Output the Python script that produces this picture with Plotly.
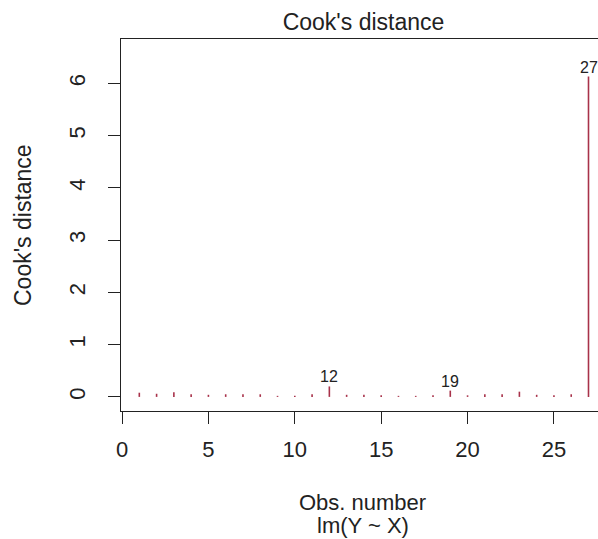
import plotly.graph_objects as go

obs = list(range(1, 28))
cooks_d = [0.08, 0.06, 0.09, 0.05, 0.04, 0.05, 0.05, 0.05, 0.02,
           0.02, 0.05, 0.20, 0.04, 0.04, 0.03, 0.02, 0.02, 0.03,
           0.12, 0.03, 0.05, 0.05, 0.10, 0.04, 0.03, 0.05, 6.13]
labelled = [12, 19, 27]
x_ticks = [0, 5, 10, 15, 20, 25]
y_ticks = [0, 1, 2, 3, 4, 5, 6]

FONT = "Liberation Sans, Arial, sans-serif"
TXT = "#222222"
BAR = "#A8324A"

xs, ys = [], []
for o, d in zip(obs, cooks_d):
    xs += [o, o, None]
    ys += [0, d, None]

fig = go.Figure()
fig.add_trace(go.Scatter(x=xs, y=ys, mode="lines",
                         line=dict(color=BAR, width=1.6),
                         hoverinfo="skip", showlegend=False))

for o in labelled:
    fig.add_annotation(x=o, y=cooks_d[o - 1], text=str(o), showarrow=False,
                       yanchor="bottom", xanchor="center", yshift=-1,
                       font=dict(family=FONT, size=16, color=TXT))

# centre of the R plot region (which runs past the right edge of the image)
CX = 363.5 / 598
fig.add_annotation(xref="paper", yref="paper", x=0.5, y=0, text="Obs. number",
                   showarrow=False, yanchor="middle", yshift=-91, xshift=3,
                   font=dict(family=FONT, size=22, color=TXT))
fig.add_annotation(xref="paper", yref="paper", x=0.5, y=0, text="lm(Y ~ X)",
                   showarrow=False, yanchor="middle", yshift=-114, xshift=3,
                   font=dict(family=FONT, size=22, color=TXT))
fig.add_annotation(xref="paper", yref="paper", x=0, y=0.5, text="Cook's distance",
                   showarrow=False, xanchor="center", textangle=-90, xshift=-98,
                   font=dict(family=FONT, size=23, color=TXT))

fig.update_layout(
    width=598, height=539,
    margin=dict(l=121, r=0, t=39, b=128, autoexpand=False),
    paper_bgcolor="white", plot_bgcolor="white",
    title=dict(text="Cook's distance", x=CX, xref="container", xanchor="center",
               y=1 - 22 / 539, yanchor="middle", yref="container",
               font=dict(family=FONT, size=23, color=TXT)),
    font=dict(family=FONT, size=22, color=TXT),
)
fig.update_xaxes(range=[-0.06, 27.55], tickvals=x_ticks, ticks="outside",
                 ticklen=12, tickwidth=1.3, tickcolor="#222", automargin=False,
                 showline=True, linecolor="#222", linewidth=1.3, mirror=True,
                 showgrid=False, zeroline=False, ticklabelstandoff=6,
                 tickfont=dict(family=FONT, size=22, color=TXT))
fig.update_yaxes(range=[-0.27, 6.85], tickvals=y_ticks, ticks="outside",
                 ticklen=12, tickwidth=1.3, tickcolor="#222", tickangle=-90,
                 automargin=False,
                 showline=True, linecolor="#222", linewidth=1.3,
                 showgrid=False, zeroline=False, ticklabelstandoff=14,
                 tickfont=dict(family=FONT, size=22, color=TXT))

fig.write_html(
    "out.html",
    config={"displayModeBar": False},
    post_script=("document.documentElement.style.margin='0';"
                 "document.body.style.margin='0';"
                 "document.documentElement.style.overflow='hidden';"
                 "document.body.style.overflow='hidden';"),
)
